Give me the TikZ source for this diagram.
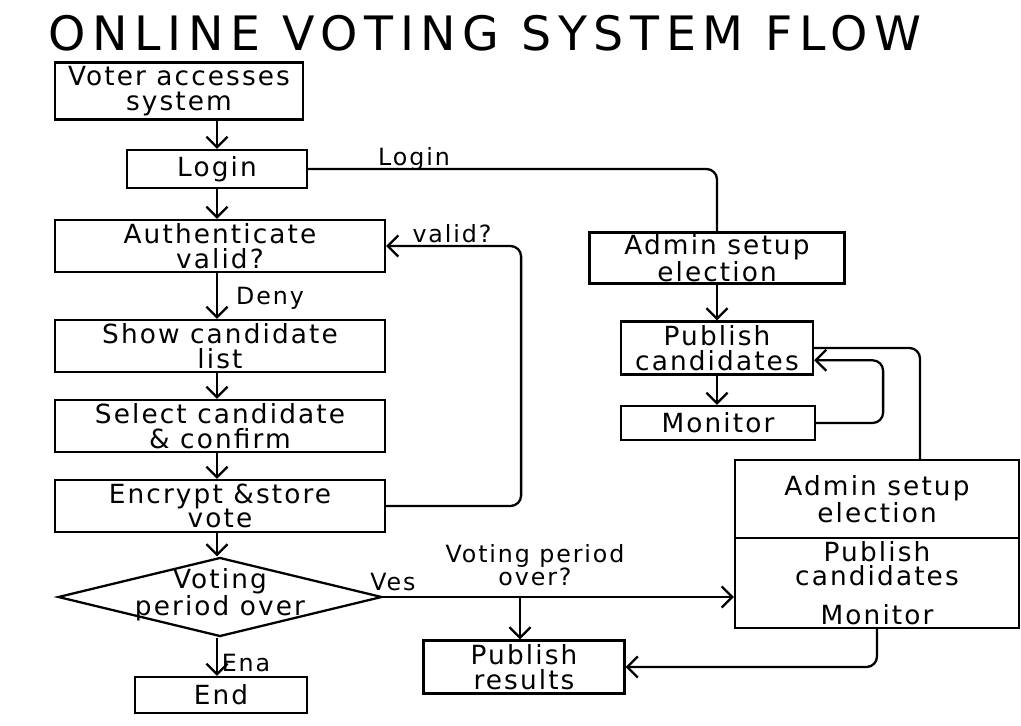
\documentclass[tikz,border=0pt]{standalone}
\usepackage{fontspec}
\setmainfont{DejaVu Sans}[LetterSpace=8]
\newfontfamily\titlefont{DejaVu Sans}[LetterSpace=14]
\usetikzlibrary{shapes.geometric,arrows.meta}
\tikzset{
  box/.style={draw, line width=1.3pt, inner sep=1pt, align=center, font=\fontsize{15}{14}\selectfont},
  decision/.style={draw, diamond, line width=1.3pt, inner sep=0pt, minimum width=6.48cm, minimum height=1.58cm, aspect=4},
  flow/.style={line width=1.3pt, rounded corners=6pt},
  lbl/.style={align=center, inner sep=0pt, font=\fontsize{13.5}{13}\selectfont}
}
\begin{document}
\begin{tikzpicture}[x=0.02cm, y=-0.02cm, >={Straight Barb[length=6pt,width=12pt]}]
\useasboundingbox (0,0) rectangle (1021,726);
\node (title) at (485,33) {\titlefont\fontsize{27}{27}\selectfont ONLINE VOTING SYSTEM FLOW};
\node[box, minimum width=4.96cm, minimum height=1.14cm] (voter) at (179,91) {Voter accesses\\system};
\node[box, minimum width=3.6cm, minimum height=0.76cm] (login) at (217,169) {Login};
\node[box, minimum width=6.6cm, minimum height=1.04cm] (auth) at (220,246) {Authenticate\\valid?};
\node[box, minimum width=6.6cm, minimum height=1.04cm] (show) at (220,346) {Show candidate\\list};
\node[box, minimum width=6.6cm, minimum height=1.04cm] (select) at (220,426) {Select candidate\\\& confirm};
\node[box, minimum width=6.6cm, minimum height=1.04cm] (enc) at (220,506) {Encrypt \&store\\vote};
\node[decision] (dec) at (220,597) {};
\node[lbl, font=\fontsize{15}{14}\selectfont] (dectext) at (220,595) {Voting\\period over};
\node[box, minimum width=3.44cm, minimum height=0.72cm] (end) at (221,695) {End};
\node[box, minimum width=5.1cm, minimum height=1.02cm] (admin) at (717,258) {Admin setup\\election};
\node[box, minimum width=3.84cm, minimum height=1.06cm] (pub) at (717,348) {Publish\\candidates};
\node[box, minimum width=3.88cm, minimum height=0.68cm] (mon) at (718,423) {Monitor};
\node[box, minimum width=5.68cm, minimum height=1.56cm] (bigtop) at (877,499) {Admin setup\\election};
\node[box, minimum width=5.68cm, minimum height=1.8cm] (bigbot) at (877,583) {Publish\\candidates\\[8pt]Monitor};
\node[box, minimum width=4.02cm, minimum height=1.06cm] (res) at (524,667) {Publish\\results};
\node[lbl] (llogin) at (414,159) {Login};
\node[lbl] (ldeny) at (270,298) {Deny};
\node[lbl] (lvalid) at (452,234) {valid?};
\node[lbl] (lyes) at (393,582) {Ves};
\node[lbl] (lover) at (535,565) {Voting period\\over?};
\node[lbl] (lend) at (246,663) {Ena};
\draw[flow, ->] (voter.south -| login) -- (login.north);
\draw[flow, ->] (login.south) -- (login.south |- auth.north);
\draw[flow, ->] (login.south |- auth.south) -- (login.south |- show.north);
\draw[flow, ->] (login.south |- show.south) -- (login.south |- select.north);
\draw[flow, ->] (login.south |- select.south) -- (login.south |- enc.north);
\draw[flow, ->] (login.south |- enc.south) -- (login.south |- dec.north);
\draw[flow, ->] (login.south |- dec.south) -- (login.south |- end.north);
\draw[flow] (login.east) -| (admin.north);
\draw[flow, ->] (enc.east) -- ++(135,0) |- (auth.east);
\draw[flow, ->] (admin.south) -- (pub.north);
\draw[flow, ->] (pub.south) -- (pub.south |- mon.north);
\draw[flow, ->] (mon.east) -- ++(67,0) |- ([yshift=-7pt]pub.east);
\draw[flow] (pub.east) -| ([xshift=0.86cm]bigtop.north);
\draw[flow, ->] (dec.east) -- (dec.east -| bigbot.west);
\draw[flow, ->] ([xshift=-0.08cm]res.north |- dec.east) -- ([xshift=-0.08cm]res.north);
\draw[flow, ->] (bigbot.south) |- (res.east);
\end{tikzpicture}
\end{document}
